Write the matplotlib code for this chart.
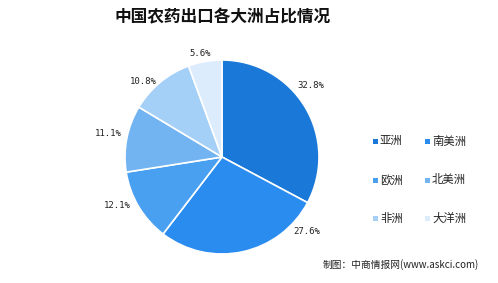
import matplotlib
matplotlib.use("Agg")
import matplotlib.pyplot as plt
from matplotlib.patches import Rectangle

plt.rcParams['font.family'] = ['Noto Sans CJK SC', 'DejaVu Sans']

categories = ["亚洲", "南美洲", "欧洲", "北美洲", "非洲", "大洋洲"]
values = [32.8, 27.6, 12.1, 11.1, 10.8, 5.6]
labels = ["32.8%", "27.6%", "12.1%", "11.1%", "10.8%", "5.6%"]
colors = ["#1a78d8", "#2b8cf0", "#4aa0f0", "#72b4f2", "#a4d0f8", "#dcecfc"]
title = "中国农药出口各大洲占比情况"
source = "制图：中商情报网(www.askci.com)"

W, H = 498, 283
fig = plt.figure(figsize=(W / 100, H / 100), dpi=100)
ax = fig.add_axes([0, 0, 1, 1])

cx, cy, r = 222, H - 157, 97
ax.pie(values, colors=colors, startangle=90, counterclock=False,
       center=(cx, cy), radius=r, frame=True,
       wedgeprops=dict(edgecolor='white', linewidth=1.2))
ax.set_xlim(0, W)
ax.set_ylim(0, H)
ax.set_aspect('equal')
ax.axis('off')

label_pos = [(311, 85), (307, 232), (117, 206), (108, 133), (143, 81), (200, 54)]
for lab, (x, y) in zip(labels, label_pos):
    ax.text(x, H - y, lab, fontsize=6.5, family='DejaVu Sans Mono',
            ha='center', va='center', color='#222222')

ax.text(223, H - 17, title, fontsize=12, fontweight='bold',
        ha='center', va='center', color='#111111')

leg_x = [375, 427]
leg_y = [141, 180, 218]
for i, (cat, col) in enumerate(zip(categories, colors)):
    x = leg_x[i % 2]
    y = leg_y[i // 2]
    ax.add_patch(Rectangle((x - 2.5, H - y - 2.5), 5, 5, facecolor=col, edgecolor='none'))
    ax.text(x + 5, H - y, cat, fontsize=8.2, ha='left', va='center', color='#222222')

ax.text(323, H - 265, source, fontsize=7, ha='left', va='center', color='#222222')

fig.savefig("out.png", dpi=100, facecolor='white')
